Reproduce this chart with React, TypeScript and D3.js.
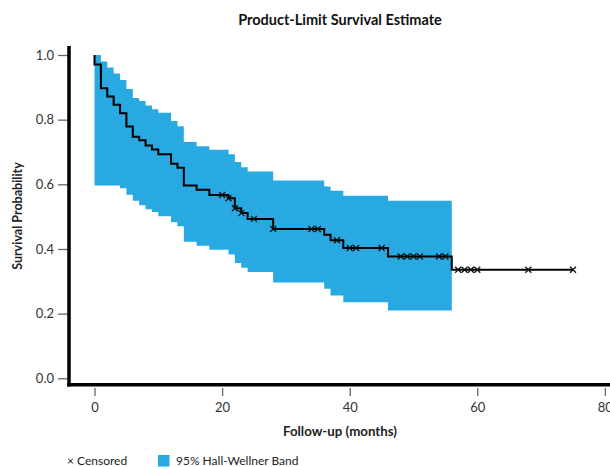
import { useEffect, useRef } from 'react'
import * as d3 from 'd3'

// Kaplan-Meier step values (months, survival)
const kmTimes = [0, 0, 1, 2, 3, 4, 5, 6, 7, 8, 9, 10, 12, 13, 14, 16, 18, 21, 22, 23, 24, 28, 36, 37, 39, 46, 56, 75]
const kmSurv = [1.0, 0.971, 0.897, 0.872, 0.846, 0.82, 0.779, 0.747, 0.736, 0.72, 0.708, 0.693, 0.664, 0.651, 0.596, 0.583, 0.567, 0.557, 0.526, 0.511, 0.493, 0.462, 0.444, 0.427, 0.403, 0.377, 0.336, 0.336]

// censored observation times
const censoredTimes = [20, 21, 22, 23, 25, 28, 34, 35, 38, 40, 41, 45, 48, 49, 50, 51, 54, 55, 57, 58, 59, 60, 68, 75]

// 95% Hall-Wellner band
const bandTimes = [0, 1, 2, 3, 4, 5, 6, 7, 8, 9, 10, 12, 13, 14, 16, 18, 21, 22, 23, 24, 28, 36, 37, 39, 46, 56]
const bandUpper = [1.0, 0.98, 0.961, 0.943, 0.923, 0.895, 0.867, 0.858, 0.844, 0.832, 0.821, 0.796, 0.78, 0.731, 0.718, 0.707, 0.693, 0.669, 0.653, 0.64, 0.612, 0.593, 0.58, 0.565, 0.549, 0.549]
const bandLower = [0.596, 0.596, 0.596, 0.596, 0.588, 0.568, 0.549, 0.535, 0.523, 0.514, 0.501, 0.483, 0.47, 0.422, 0.41, 0.398, 0.383, 0.357, 0.342, 0.329, 0.296, 0.277, 0.256, 0.235, 0.21, 0.21]

const xTicks = [0, 20, 40, 60, 80]
const yTicks = [0, 0.2, 0.4, 0.6, 0.8, 1.0]

const W = 610
const H = 467
const FONT = 'Lato, "Open Sans", sans-serif'
const BAND = '#29a9e1'

export default function App() {
  const svgRef = useRef<SVGSVGElement>(null)

  useEffect(() => {
    const svg = d3.select(svgRef.current)
    svg.selectAll('*').remove()

    const x = d3.scaleLinear().domain([-4, 84]).range([69, 630.4])
    const y = d3.scaleLinear().domain([0, 1]).range([378.3, 55])

    // band
    const band = bandTimes.map((t, i) => ({ t, lo: bandLower[i], hi: bandUpper[i] }))
    svg.append('path')
      .datum(band)
      .attr('fill', BAND)
      .attr('d', d3.area<any>()
        .curve(d3.curveStepAfter)
        .x(d => x(d.t))
        .y0(d => y(d.lo))
        .y1(d => y(d.hi)))

    // survival curve
    const km = kmTimes.map((t, i) => ({ t, s: kmSurv[i] }))
    svg.append('path')
      .datum(km)
      .attr('fill', 'none')
      .attr('stroke', '#000')
      .attr('stroke-width', 2)
      .attr('d', d3.line<any>()
        .curve(d3.curveStepAfter)
        .x(d => x(d.t))
        .y(d => y(d.s)))

    // censored marks
    const survAt = (t: number) => kmSurv[d3.bisectRight(kmTimes, t) - 1]
    const m = 3
    svg.append('g')
      .selectAll('path')
      .data(censoredTimes)
      .join('path')
      .attr('d', t => {
        const cx = x(t), cy = y(survAt(t))
        return `M${cx - m},${cy - m}L${cx + m},${cy + m}M${cx - m},${cy + m}L${cx + m},${cy - m}`
      })
      .attr('stroke', '#111')
      .attr('stroke-width', 1.3)
      .attr('fill', 'none')

    // y axis
    const yAxis = svg.append('g')
      .attr('transform', 'translate(68,0)')
      .call(d3.axisLeft(y).tickValues(yTicks).tickFormat(d3.format('.1f')).tickSize(10).tickPadding(4))
    yAxis.select('.domain').remove()
    yAxis.selectAll('line').attr('stroke', '#666').attr('stroke-width', 1.3)
    yAxis.selectAll('text').style('font-family', FONT).style('font-size', '13px').attr('fill', '#333')

    // x axis
    const xAxis = svg.append('g')
      .attr('transform', 'translate(0,388)')
      .call(d3.axisBottom(x).tickValues(xTicks).tickSize(8).tickPadding(7))
    xAxis.select('.domain').remove()
    xAxis.selectAll('line').attr('stroke', '#666').attr('stroke-width', 1.3)
    xAxis.selectAll('text').style('font-family', FONT).style('font-size', '13px').attr('fill', '#333')

    // axis lines
    svg.append('line')
      .attr('x1', 69).attr('x2', 69).attr('y1', 46).attr('y2', 386.5)
      .attr('stroke', '#000').attr('stroke-width', 3.5)
    svg.append('line')
      .attr('x1', 67.25).attr('x2', W).attr('y1', 384.8).attr('y2', 384.8)
      .attr('stroke', '#000').attr('stroke-width', 3.5)

    // titles
    svg.append('text')
      .attr('x', 340).attr('y', 24.5)
      .attr('text-anchor', 'middle')
      .style('font-family', FONT).style('font-size', '14.5px').style('font-weight', 700)
      .attr('fill', '#111')
      .text('Product-Limit Survival Estimate')

    svg.append('text')
      .attr('x', 340).attr('y', 435.5)
      .attr('text-anchor', 'middle')
      .style('font-family', FONT).style('font-size', '13.3px').style('font-weight', 700)
      .attr('fill', '#222')
      .text('Follow-up (months)')

    svg.append('text')
      .attr('transform', 'translate(22,216) rotate(-90)')
      .attr('text-anchor', 'middle')
      .style('font-family', FONT).style('font-size', '12.5px').style('font-weight', 700)
      .attr('fill', '#222')
      .text('Survival Probability')

    // legend
    svg.append('text')
      .attr('x', 67).attr('y', 465)
      .style('font-family', FONT).style('font-size', '12px')
      .attr('fill', '#222')
      .text('× Censored')
    svg.append('rect')
      .attr('x', 158).attr('y', 455).attr('width', 11.5).attr('height', 11.5)
      .attr('fill', BAND)
    svg.append('text')
      .attr('x', 176).attr('y', 465)
      .style('font-family', FONT).style('font-size', '12px')
      .attr('fill', '#222')
      .text('95% Hall-Wellner Band')
  }, [])

  return (
    <svg
      ref={svgRef}
      width={W}
      height={H}
      style={{ position: 'absolute', left: 0, top: 0, background: '#fff' }}
    />
  )
}
